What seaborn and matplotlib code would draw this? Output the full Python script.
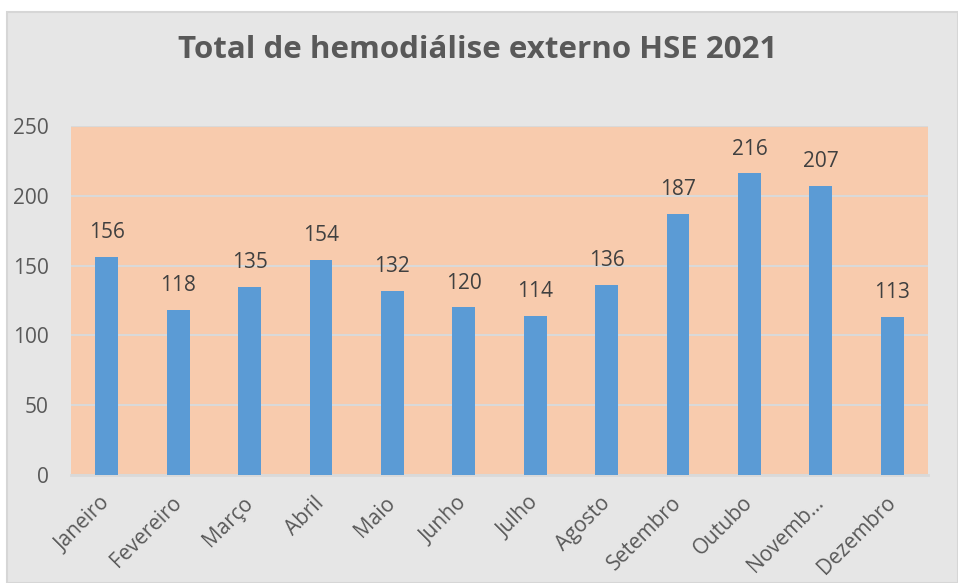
import matplotlib
matplotlib.use("Agg")
import matplotlib.pyplot as plt
import seaborn as sns
from matplotlib.patches import Rectangle

months = ["Janeiro", "Fevereiro", "Março", "Abril", "Maio", "Junho", "Julho",
          "Agosto", "Setembro", "Outubo", "Novemb...", "Dezembro"]
values = [156, 118, 135, 154, 132, 120, 114, 136, 187, 216, 207, 113]
yticks = [0, 50, 100, 150, 200, 250]

sns.set_theme(style="white")
plt.rcParams['font.family'] = ['Open Sans', 'DejaVu Sans']

W, H = 958, 583
fig = plt.figure(figsize=(W / 100, H / 100), dpi=100)
fig.patch.set_facecolor("white")
fig.patches.append(Rectangle((7 / W, 0), (W - 7) / W, (H - 12) / H,
                             transform=fig.transFigure, facecolor="#e6e6e6",
                             edgecolor="#d6d6d6", linewidth=1.5, zorder=-5))

ax = fig.add_axes([71 / W, (H - 475) / H, (928 - 71) / W, (475 - 126) / H])
ax.set_zorder(1)
ax.set_facecolor("#f8cbad")
sns.barplot(x=months, y=values, color="#5b9bd5", saturation=1, width=0.32,
            linewidth=0, ax=ax, zorder=3)
ax.set_ylim(0, 250)
ax.set_xlim(-0.5, len(months) - 0.5)
ax.set_yticks(yticks)
ax.yaxis.grid(True, color="#d9d9d9", linewidth=1.5, zorder=1)
ax.set_axisbelow(True)
for s in ["left", "right", "top"]:
    ax.spines[s].set_visible(False)
ax.spines["bottom"].set_color("#d9d9d9")
ax.spines["bottom"].set_linewidth(2)
ax.tick_params(axis="y", colors="#595959", labelsize=15, length=0, pad=16)
ax.tick_params(axis="x", colors="#595959", labelsize=15, length=0, pad=18)
plt.setp(ax.get_xticklabels(), rotation=45, ha="right", va="center",
         rotation_mode="anchor")
ax.set_xlabel("")
ax.set_ylabel("")
for c in ax.containers:
    ax.bar_label(c, labels=[str(v) for v in values], padding=10,
                 fontsize=15, color="#404040")

fig.text(478 / W, (H - 50) / H, "Total de hemodiálise externo HSE 2021",
         ha="center", va="center", fontsize=22.5, fontweight="bold",
         color="#595959")

fig.savefig("out.png", dpi=100)
